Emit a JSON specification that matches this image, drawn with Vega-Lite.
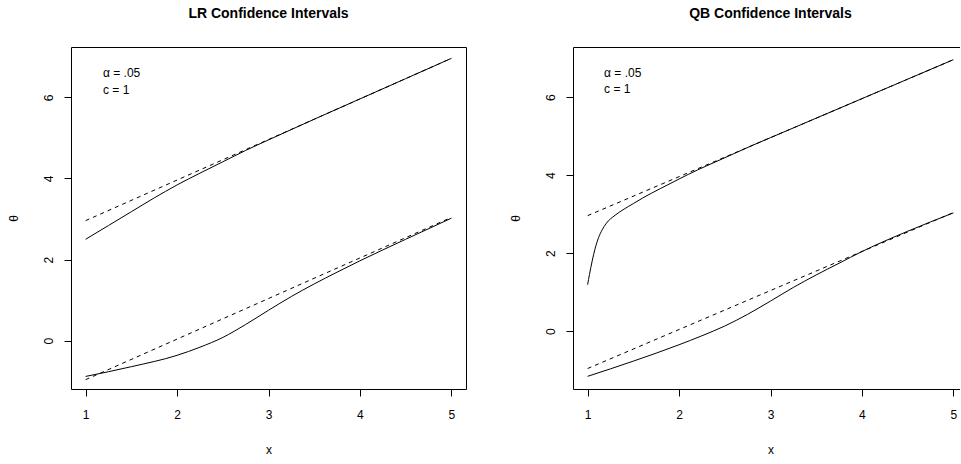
{
  "$schema": "https://vega.github.io/schema/vega-lite/v6.json",
  "background": "white",
  "padding": {"left": 6, "top": 6, "right": -9, "bottom": 5},
  "spacing": 107,
  "bounds": "flush",
  "config": {
    "font": "Liberation Sans",
    "view": {"stroke": "black", "strokeWidth": 1},
    "axis": {"domain": false, "grid": false, "tickColor": "black", "tickSize": 7, "labelColor": "black", "labelFontSize": 12, "titleFontSize": 12, "titleFontWeight": "normal", "titleColor": "black", "labelFont": "Liberation Sans", "titleFont": "Liberation Sans", "format": "d"},
    "axisX": {"labelPadding": 13, "titlePadding": 24},
    "axisY": {"labelAngle": -90, "labelAlign": "center", "labelBaseline": "bottom", "labelPadding": 9, "titlePadding": 22},
    "title": {"fontSize": 14, "fontWeight": "bold", "color": "black", "offset": 26, "anchor": "middle", "font": "Liberation Sans"}
  },
  "hconcat": [
    {
      "title": "LR Confidence Intervals",
      "width": 395,
      "height": 342,
      "layer": [
        {
          "data": {"values": [
            {"series": "upper", "x": 1, "y": 2.50}, {"series": "upper", "x": 1.25, "y": 2.84}, {"series": "upper", "x": 1.5, "y": 3.18}, {"series": "upper", "x": 1.75, "y": 3.52}, {"series": "upper", "x": 2, "y": 3.84}, {"series": "upper", "x": 2.25, "y": 4.13}, {"series": "upper", "x": 2.5, "y": 4.41}, {"series": "upper", "x": 2.75, "y": 4.69}, {"series": "upper", "x": 3, "y": 4.95}, {"series": "upper", "x": 3.5, "y": 5.46}, {"series": "upper", "x": 4, "y": 5.96}, {"series": "upper", "x": 4.5, "y": 6.46}, {"series": "upper", "x": 5, "y": 6.96},
            {"series": "lower", "x": 1, "y": -0.88}, {"series": "lower", "x": 1.5, "y": -0.64}, {"series": "lower", "x": 2, "y": -0.36}, {"series": "lower", "x": 2.25, "y": -0.16}, {"series": "lower", "x": 2.5, "y": 0.08}, {"series": "lower", "x": 2.75, "y": 0.40}, {"series": "lower", "x": 3, "y": 0.75}, {"series": "lower", "x": 3.25, "y": 1.09}, {"series": "lower", "x": 3.5, "y": 1.40}, {"series": "lower", "x": 3.75, "y": 1.69}, {"series": "lower", "x": 4, "y": 1.97}, {"series": "lower", "x": 4.5, "y": 2.5}, {"series": "lower", "x": 5, "y": 3.02}
          ]},
          "mark": {"type": "line", "color": "black", "strokeWidth": 1, "interpolate": "monotone"},
          "encoding": {
            "x": {"field": "x", "type": "quantitative", "scale": {"domain": [0.84, 5.16], "nice": false, "zero": false}, "axis": {"values": [1, 2, 3, 4, 5], "title": "x"}},
            "y": {"field": "y", "type": "quantitative", "scale": {"domain": [-1.19, 7.24], "nice": false, "zero": false}, "axis": {"values": [0, 2, 4, 6], "title": "θ"}},
            "detail": {"field": "series"}
          }
        },
        {
          "data": {"values": [
            {"series": "wu", "x": 1, "y": 2.96}, {"series": "wu", "x": 5, "y": 6.96},
            {"series": "wl", "x": 1, "y": -0.96}, {"series": "wl", "x": 5, "y": 3.04}
          ]},
          "mark": {"type": "line", "color": "black", "strokeWidth": 1, "strokeDash": [4, 4]},
          "encoding": {
            "x": {"field": "x", "type": "quantitative"},
            "y": {"field": "y", "type": "quantitative"},
            "detail": {"field": "series"}
          }
        },
        {
          "data": {"values": [
            {"label": "α = .05", "x": 1.19, "y": 6.61},
            {"label": "c = 1", "x": 1.19, "y": 6.19}
          ]},
          "mark": {"type": "text", "align": "left", "baseline": "middle", "fontSize": 12, "color": "black"},
          "encoding": {
            "x": {"field": "x", "type": "quantitative"},
            "y": {"field": "y", "type": "quantitative"},
            "text": {"field": "label"}
          }
        }
      ]
    },
    {
      "title": "QB Confidence Intervals",
      "width": 395,
      "height": 342,
      "layer": [
        {
          "data": {"values": [
            {"series": "upper", "x": 1, "y": 1.19}, {"series": "upper", "x": 1.02, "y": 1.45}, {"series": "upper", "x": 1.05, "y": 1.8}, {"series": "upper", "x": 1.08, "y": 2.1}, {"series": "upper", "x": 1.12, "y": 2.4}, {"series": "upper", "x": 1.16, "y": 2.6}, {"series": "upper", "x": 1.2, "y": 2.75}, {"series": "upper", "x": 1.3, "y": 2.97}, {"series": "upper", "x": 1.4, "y": 3.13}, {"series": "upper", "x": 1.5, "y": 3.27}, {"series": "upper", "x": 1.6, "y": 3.41}, {"series": "upper", "x": 1.8, "y": 3.66}, {"series": "upper", "x": 2, "y": 3.9}, {"series": "upper", "x": 2.2, "y": 4.13}, {"series": "upper", "x": 2.4, "y": 4.34}, {"series": "upper", "x": 2.6, "y": 4.55}, {"series": "upper", "x": 2.8, "y": 4.76}, {"series": "upper", "x": 3, "y": 4.96}, {"series": "upper", "x": 3.5, "y": 5.46}, {"series": "upper", "x": 4, "y": 5.96}, {"series": "upper", "x": 4.5, "y": 6.46}, {"series": "upper", "x": 5, "y": 6.96},
            {"series": "lower", "x": 1, "y": -1.16}, {"series": "lower", "x": 1.5, "y": -0.77}, {"series": "lower", "x": 2, "y": -0.35}, {"series": "lower", "x": 2.25, "y": -0.12}, {"series": "lower", "x": 2.5, "y": 0.13}, {"series": "lower", "x": 2.75, "y": 0.43}, {"series": "lower", "x": 3, "y": 0.77}, {"series": "lower", "x": 3.25, "y": 1.12}, {"series": "lower", "x": 3.5, "y": 1.44}, {"series": "lower", "x": 3.75, "y": 1.74}, {"series": "lower", "x": 4, "y": 2.04}, {"series": "lower", "x": 4.5, "y": 2.56}, {"series": "lower", "x": 5, "y": 3.03}
          ]},
          "mark": {"type": "line", "color": "black", "strokeWidth": 1, "interpolate": "monotone"},
          "encoding": {
            "x": {"field": "x", "type": "quantitative", "scale": {"domain": [0.84, 5.16], "nice": false, "zero": false}, "axis": {"values": [1, 2, 3, 4, 5], "title": "x"}},
            "y": {"field": "y", "type": "quantitative", "scale": {"domain": [-1.485, 7.285], "nice": false, "zero": false}, "axis": {"values": [0, 2, 4, 6], "title": "θ"}},
            "detail": {"field": "series"}
          }
        },
        {
          "data": {"values": [
            {"series": "wu", "x": 1, "y": 2.96}, {"series": "wu", "x": 5, "y": 6.96},
            {"series": "wl", "x": 1, "y": -0.96}, {"series": "wl", "x": 5, "y": 3.04}
          ]},
          "mark": {"type": "line", "color": "black", "strokeWidth": 1, "strokeDash": [4, 4]},
          "encoding": {
            "x": {"field": "x", "type": "quantitative"},
            "y": {"field": "y", "type": "quantitative"},
            "detail": {"field": "series"}
          }
        },
        {
          "data": {"values": [
            {"label": "α = .05", "x": 1.18, "y": 6.63},
            {"label": "c = 1", "x": 1.18, "y": 6.2}
          ]},
          "mark": {"type": "text", "align": "left", "baseline": "middle", "fontSize": 12, "color": "black"},
          "encoding": {
            "x": {"field": "x", "type": "quantitative"},
            "y": {"field": "y", "type": "quantitative"},
            "text": {"field": "label"}
          }
        }
      ]
    }
  ]
}
